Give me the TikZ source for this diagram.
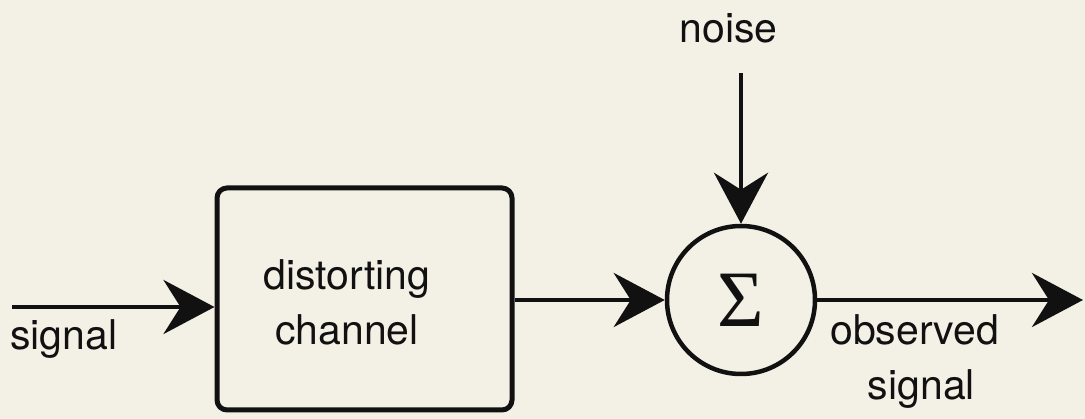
\documentclass[tikz,border=0pt]{standalone}
\usepackage{fontspec}
\setmainfont{TeX Gyre Heros}
\newfontfamily\sigmafont{Liberation Serif}
\usetikzlibrary{arrows.meta}
\definecolor{paper}{HTML}{F3F1E6}
\definecolor{ink}{HTML}{111111}
\tikzset{
  lbl/.style={font=\fontsize{41}{55}\selectfont, text=ink, inner sep=0pt},
  flow/.style={draw=ink, line width=4.5pt,
    -{Stealth[length=51pt, width=54pt, inset=17pt]}},
  chanbox/.style={draw=ink, line width=5pt, rounded corners=10pt,
    minimum width=295pt, minimum height=222pt, inner sep=0pt},
  sumnode/.style={draw=ink, line width=4.5pt, circle, minimum size=148pt,
    inner sep=0pt, font=\sigmafont\fontsize{80}{80}\selectfont, text=ink},
}
\begin{document}
\begin{tikzpicture}[x=1pt, y=-1pt]
  % page and paper colour
  \fill[paper] (0,0) rectangle (1085,419);
  \useasboundingbox (0,0) rectangle (1085,419);

  % blocks
  \node[chanbox] (chan) at (364.5,299) {};
  \node[lbl, align=center] (chantext) at (347,302.5) {distorting\\channel};
  \node[sumnode] (sum) at (741,300) {Σ};

  % free ends of the connectors
  \coordinate (src) at (12,307);
  \coordinate (noisetop) at (741,73);
  \coordinate (dst) at (1083,300);

  % connectors
  \draw[flow] (src) -- (src -| chan.west);
  \draw[flow] (chan.east |- sum.west) -- (sum.west);
  \draw[flow] (noisetop) -- (sum.north);
  \draw[flow] (sum.east) -- (dst);

  % labels
  \node[lbl, anchor=base west] (insig) at (10,350) {signal};
  \node[lbl, anchor=base] (noise) at (728.5,43) {noise};
  \node[lbl, anchor=base west] (obs) at (830,345) {observed};
  \node[lbl, anchor=base] (obssig) at (921.5,400) {signal};
\end{tikzpicture}
\end{document}
